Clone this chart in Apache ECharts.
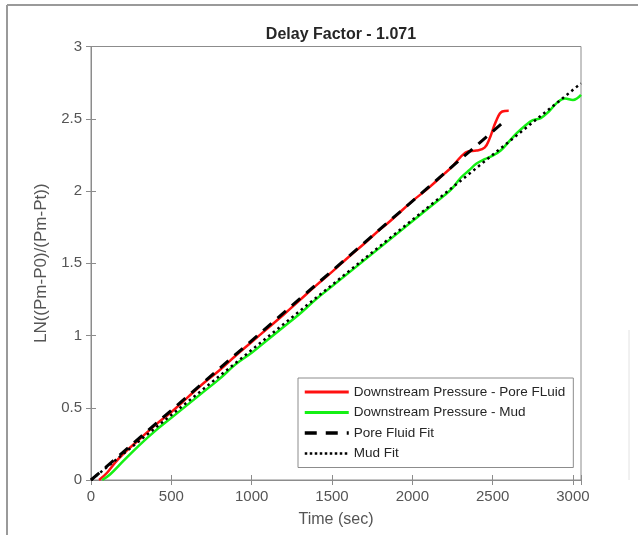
<!DOCTYPE html>
<html>
<head>
<meta charset="utf-8">
<script src="https://cdn.jsdelivr.net/npm/echarts@6/dist/echarts.min.js"></script>
<style>html,body{margin:0;padding:0;background:#fff;}#c{width:638px;height:535px;}</style>
</head>
<body>
<div id="c"></div>
<script>
// ---- data ----
const titleText = 'Delay Factor - 1.071';
const xName = 'Time (sec)';
const yName = 'LN((Pm-P0)/(Pm-Pt))';
const seriesNames = ['Downstream Pressure - Pore FLuid', 'Downstream Pressure - Mud', 'Pore Fluid Fit', 'Mud Fit'];

const poreTime = [50,100,150,200,300,400,500,600,700,800,900,1000,1100,1200,1300,1400,1500,1600,1700,1800,1850,1900,2000,2100,2200,2250,2300,2350,2400,2450,2480,2520,2560,2600];
const poreValue = [0,0.05,0.12,0.18,0.28,0.38,0.47,0.57,0.67,0.76,0.86,0.955,1.05,1.145,1.245,1.345,1.44,1.54,1.635,1.735,1.78,1.83,1.93,2.02,2.12,2.17,2.235,2.275,2.28,2.30,2.36,2.48,2.55,2.555];

const mudTime = [70,120,200,300,400,500,600,700,800,900,1000,1100,1200,1300,1400,1500,1600,1700,1800,1900,2000,2100,2200,2250,2300,2350,2400,2450,2500,2550,2600,2650,2700,2750,2800,2850,2900,2950,3000,3050];
const mudValue = [0,0.04,0.13,0.24,0.34,0.43,0.52,0.61,0.70,0.80,0.88,0.97,1.06,1.15,1.25,1.34,1.43,1.52,1.61,1.70,1.79,1.88,1.97,2.02,2.09,2.14,2.19,2.22,2.245,2.28,2.34,2.40,2.45,2.49,2.505,2.55,2.61,2.64,2.63,2.665];

const poreFitTime = [0, 2560];
const poreFitValue = [0, 2.47];
const mudFitTime = [0, 3050];
const mudFitValue = [0, 2.745];

const xTicks = [0,500,1000,1500,2000,2500,3000];
const yTicks = [0,0.5,1,1.5,2,2.5,3];

// ---- build ----
const zip = (a, b) => a.map((v, i) => [v, b[i]]);
const axisColor = '#8c8c8c';
const labelColor = '#555555';
const font = 'Liberation Sans, Arial, sans-serif';
const legendLine = [
  {color: '#ff1010', width: 3, type: 'solid'},
  {color: '#14f014', width: 3, type: 'solid'},
  {color: '#000', width: 3.5, type: [12, 9]},
  {color: '#000', width: 2.5, type: [2.5, 2.5]}
];

const chart = echarts.init(document.getElementById('c'), null, {renderer: 'canvas'});
chart.setOption({
  backgroundColor: '#fff',
  animation: false,
  title: {
    text: titleText, left: 336, top: 22, textAlign: 'center',
    textStyle: {fontFamily: font, fontSize: 16, fontWeight: 'bold', color: '#262626'}
  },
  grid: {left: 91, right: 57, top: 46.5, bottom: 55, show: true, borderColor: axisColor, borderWidth: 1, backgroundColor: '#fff'},
  legend: {
    orient: 'vertical', left: 298, top: 378, itemWidth: 44, itemHeight: 12, itemGap: 6.5,
    padding: [7, 8, 7, 5],
    borderColor: axisColor, borderWidth: 1, backgroundColor: '#fff',
    textStyle: {fontFamily: font, fontSize: 13.5, color: '#262626'},
    itemStyle: {opacity: 0},
    data: seriesNames.map((n, i) => ({name: n, lineStyle: legendLine[i]}))
  },
  xAxis: [{
    type: 'value', min: 0, max: 3050, interval: 500,
    name: xName, nameLocation: 'middle', nameGap: 32,
    nameTextStyle: {fontFamily: font, fontSize: 16, color: labelColor},
    axisLine: {show: true, onZero: false, lineStyle: {color: axisColor}},
    axisTick: {show: true, inside: true, length: 5, lineStyle: {color: axisColor}},
    axisLabel: {fontFamily: font, fontSize: 15, color: labelColor, margin: 9,
      formatter: v => xTicks.includes(v) ? String(v) : ''},
    splitLine: {show: false}
  }, {
    type: 'value', position: 'top', min: 0, max: 3050, interval: 500,
    axisLine: {show: true, lineStyle: {color: axisColor}},
    axisTick: {show: true, inside: true, length: 5, lineStyle: {color: axisColor}},
    axisLabel: {show: false}, splitLine: {show: false}
  }],
  yAxis: [{
    type: 'value', min: 0, max: 3, interval: 0.5,
    name: yName, nameLocation: 'middle', nameGap: 30,
    nameTextStyle: {fontFamily: font, fontSize: 17, color: labelColor},
    axisLine: {show: true, onZero: false, lineStyle: {color: axisColor}},
    axisTick: {show: true, inside: true, length: 5, lineStyle: {color: axisColor}},
    axisLabel: {fontFamily: font, fontSize: 15, color: labelColor, margin: 9,
      formatter: v => yTicks.includes(v) ? String(v) : ''},
    splitLine: {show: false}
  }, {
    type: 'value', position: 'right', min: 0, max: 3, interval: 0.5,
    axisLine: {show: true, lineStyle: {color: axisColor}},
    axisTick: {show: true, inside: true, length: 5, lineStyle: {color: axisColor}},
    axisLabel: {show: false}, splitLine: {show: false}
  }],
  series: [
    {name: seriesNames[0], type: 'line', smooth: 0.4, symbol: 'none', data: zip(poreTime, poreValue),
     lineStyle: {color: '#ff1010', width: 2.5}, itemStyle: {color: '#ff1010'}, z: 2},
    {name: seriesNames[1], type: 'line', smooth: 0.4, symbol: 'none', data: zip(mudTime, mudValue),
     lineStyle: {color: '#14f014', width: 2.5}, itemStyle: {color: '#14f014'}, z: 2},
    {name: seriesNames[2], type: 'line', symbol: 'none', data: zip(poreFitTime, poreFitValue),
     lineStyle: {color: '#000', width: 3, type: [11, 8]}, itemStyle: {color: '#000'}, z: 3},
    {name: seriesNames[3], type: 'line', symbol: 'none', data: zip(mudFitTime, mudFitValue),
     lineStyle: {color: '#000', width: 2.5, type: [2.5, 3.5]}, itemStyle: {color: '#000'}, z: 4}
  ],
  graphic: [
    {type: 'line', shape: {x1: 7, y1: 5, x2: 638, y2: 5}, style: {stroke: '#9a9a9a', lineWidth: 2}, silent: true},
    {type: 'line', shape: {x1: 7, y1: 5, x2: 7, y2: 535}, style: {stroke: '#9a9a9a', lineWidth: 2}, silent: true},
    {type: 'line', shape: {x1: 629, y1: 330, x2: 629, y2: 480}, style: {stroke: '#e2e2e2', lineWidth: 1}, silent: true}
  ]
});
</script>
</body>
</html>
